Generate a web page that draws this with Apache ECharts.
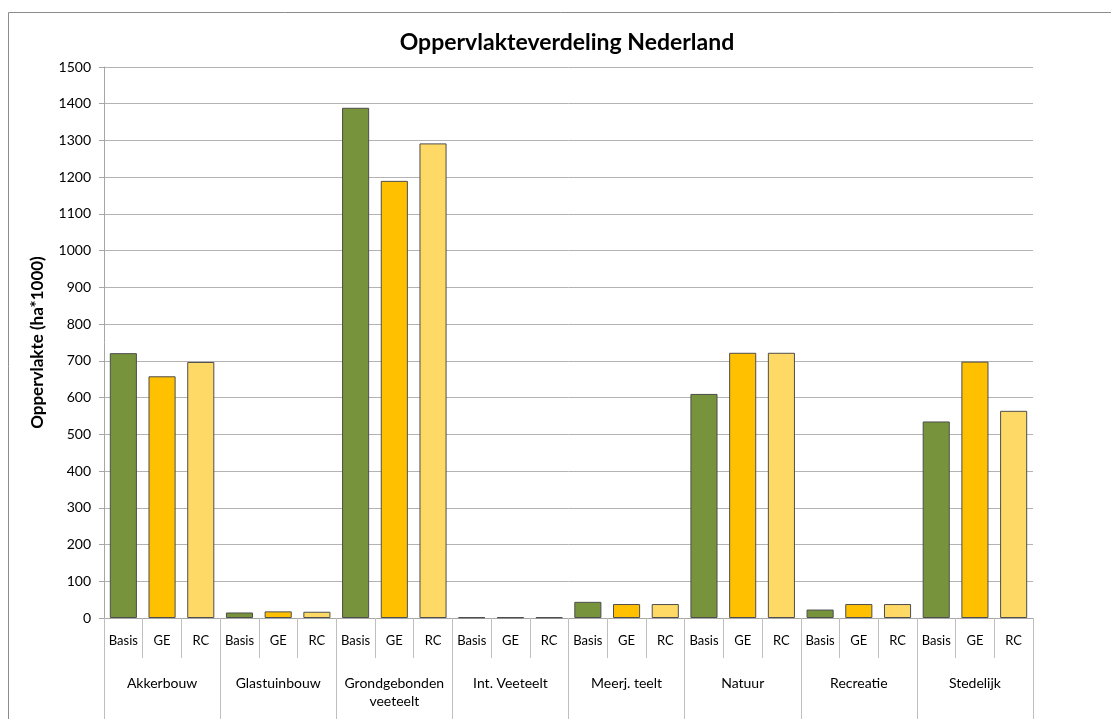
<!DOCTYPE html>
<html>
<head>
<meta charset="utf-8">
<script src="https://cdn.jsdelivr.net/npm/echarts@6/dist/echarts.min.js"></script>
<style>html,body{margin:0;padding:0;background:#fff}#c{width:1111px;height:719px}</style>
</head>
<body>
<div id="c"></div>
<script>
const groups = ['Akkerbouw', 'Glastuinbouw', 'Grondgebonden\nveeteelt', 'Int. Veeteelt', 'Meerj. teelt', 'Natuur', 'Recreatie', 'Stedelijk'];
const scenarios = ['Basis', 'GE', 'RC'];
const basis = [721, 15, 1389, 2, 44, 610, 23, 535];
const ge    = [658, 18, 1190, 2, 38, 722, 38, 698];
const rc    = [697, 17, 1292, 2, 38, 722, 38, 564];
const colors = ['#77933C', '#FFC000', '#FFD966'];

const cats = [];
const data = [];
const seriesVals = [basis, ge, rc];
groups.forEach((g, gi) => {
  scenarios.forEach((s, si) => {
    cats.push(s);
    data.push({ value: seriesVals[si][gi], itemStyle: { color: colors[si] } });
  });
});

const FONT = 'Lato, "Open Sans", sans-serif';
const chart = echarts.init(document.getElementById('c'), null, { renderer: 'canvas' });
chart.setOption({
  animation: false,
  textStyle: { fontFamily: FONT },
  title: {
    text: 'Oppervlakteverdeling Nederland',
    left: 562, top: 26, textAlign: 'center',
    textStyle: { fontFamily: FONT, fontSize: 23, fontWeight: 'bold', color: '#000' }
  },
  graphic: [{
    type: 'rect', silent: true, z: -1,
    shape: { x: 8.5, y: 12.5, width: 1200, height: 800 },
    style: { fill: 'none', stroke: '#8c8c8c', lineWidth: 1 }
  }],
  grid: { left: 104, right: 78, top: 67, bottom: 101, containLabel: false },
  xAxis: [{
    type: 'category', data: cats, position: 'bottom',
    axisLine: { show: true, lineStyle: { color: '#a6a6a6' } },
    axisTick: { show: true, interval: 0, length: 40, lineStyle: { color: '#bfbfbf' } },
    axisLabel: { interval: 0, margin: 16, fontSize: 13, color: '#000', fontFamily: FONT }
  }, {
    type: 'category', data: groups, position: 'bottom',
    axisLine: { show: false },
    axisTick: { show: true, interval: 0, length: 110, lineStyle: { color: '#bfbfbf' } },
    axisLabel: { interval: 0, margin: 56, fontSize: 14, color: '#000', fontFamily: FONT, lineHeight: 18 }
  }],
  yAxis: {
    type: 'value', min: 0, max: 1500, interval: 100,
    name: 'Oppervlakte (ha*1000)', nameLocation: 'middle', nameGap: 58, nameRotate: 90,
    nameTextStyle: { fontFamily: FONT, fontSize: 17, fontWeight: 'bold', color: '#000' },
    axisLine: { show: true, lineStyle: { color: '#a6a6a6' } },
    axisTick: { show: true, length: 5, lineStyle: { color: '#a6a6a6' } },
    axisLabel: { fontSize: 14, color: '#000', margin: 13, fontFamily: FONT, formatter: v => String(v) },
    splitLine: { show: true, lineStyle: { color: '#b3b3b3' } }
  },
  series: [{
    type: 'bar', xAxisIndex: 0, data: data, barWidth: '70%',
    itemStyle: { borderColor: '#4d4d4d', borderWidth: 1 }
  }]
});
</script>
</body>
</html>
